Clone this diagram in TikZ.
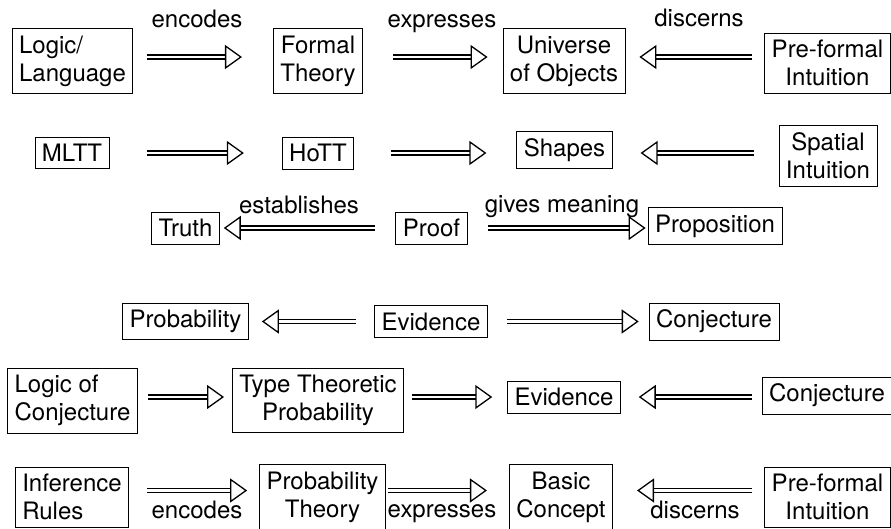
\documentclass[tikz,border=0pt]{standalone}
\usepackage{fontspec}
\setmainfont{TeX Gyre Heros}
\usetikzlibrary{arrows.meta}
\tikzset{
  box/.style={draw, line width=.8pt, inner sep=7pt, align=center,
    font=\fontsize{24}{28}\selectfont},
  lbl/.style={anchor=base, inner sep=0pt, font=\fontsize{24}{28}\selectfont},
  imp/.style={double, double distance=2.6pt, line width=1.4pt,
    -{Triangle[open, length=17pt 0 0, width=24pt 0 0, line width=1.3pt]}}
}
\begin{document}
\begin{tikzpicture}[x=1pt,y=-1pt]
\useasboundingbox (0,0) rectangle (891,528);
% row 1
\node[box,align=left] (ll) at (72.5,61) {Logic/\\Language};
\node[box] (ft) at (318,61) {Formal\\Theory};
\node[box] (uo) at (564,61) {Universe\\of Objects};
\node[box] (pf) at (827.5,63) {Pre-formal\\Intuition};
\draw[imp, shorten <=14pt, shorten >=31pt] ([yshift=4pt]ll.east) -- ([yshift=4pt]ft.west);
\draw[imp, shorten <=30pt, shorten >=15pt] ([yshift=4pt]ft.east) -- ([yshift=4pt]uo.west);
\draw[imp, shorten <=12pt, shorten >=14pt] ([yshift=4pt]uo.east -| pf.west) -- ([yshift=4pt]uo.east);
\node[lbl] (enc) at (197,27) {encodes};
\node[lbl] (exp) at (442,27) {expresses};
\node[lbl] (dis) at (699,26) {discerns};
% row 2
\node[box] (mltt) at (72,153) {MLTT};
\node[box] (hott) at (318,153) {HoTT};
\node[box] (sh) at (564.5,150) {Shapes};
\node[box] (si) at (828,156) {Spatial\\Intuition};
\draw[imp, shorten <=38pt, shorten >=38pt] (mltt.east) -- (hott.west);
\draw[imp, shorten <=37pt, shorten >=30pt] (hott.east) -- (hott.east -| sh.west);
\draw[imp, shorten <=25pt, shorten >=28pt] (hott.east -| si.west) -- (hott.east -| sh.east);
% row 3
\node[box] (tr) at (185.5,228) {Truth};
\node[box] (pr) at (431.5,228) {Proof};
\node[box] (pp) at (715,226) {Proposition};
\draw[imp, shorten <=20pt, shorten >=4pt] (pr.west) -- (pr.west -| tr.east);
\draw[imp, shorten <=20pt, shorten >=2pt] (pr.east) -- (pr.east -| pp.west);
\node[lbl] (est) at (299,213) {establishes};
\node[lbl] (giv) at (562,212) {gives meaning};
% row 4
\node[box] (prob) at (185.5,321.5) {Probability};
\node[box] (ev) at (431,321.5) {Evidence};
\node[box] (conj) at (714,321.5) {Conjecture};
\draw[imp, shorten <=18pt, shorten >=13pt] (ev.west) -- (prob.east);
\draw[imp, shorten <=19pt, shorten >=10pt] (ev.east) -- (conj.west);
% row 5
\node[box,align=left] (lc) at (72.5,400.5) {Logic of\\Conjecture};
\node[box] (ttp) at (318,400.5) {Type Theoretic\\Probability};
\node[box] (ev2) at (564,397) {Evidence};
\node[box] (conj2) at (827,395.5) {Conjecture};
\draw[imp, shorten <=10pt, shorten >=8pt] ([yshift=3.5pt]lc.east) -- ([yshift=3.5pt]ttp.west);
\draw[imp, shorten <=8pt, shorten >=15pt] (ev2.west -| ttp.east) -- (ev2.west);
\draw[imp, shorten <=10pt, shorten >=18pt] (ev2.east -| conj2.west) -- (ev2.east);
% row 6
\node[box,align=left] (ir) at (72,497) {Inference\\Rules};
\node[box] (pt) at (322.5,497) {Probability\\Theory};
\node[box] (bc) at (561,497) {Basic\\Concept};
\node[box] (pf2) at (827.5,497) {Pre-formal\\Intuition};
\draw[imp, shorten <=18pt, shorten >=12pt] ([yshift=6.5pt]ir.east) -- ([yshift=6.5pt]pt.west);
\draw[imp, shorten <=2pt, shorten >=22pt] ([yshift=6.5pt]pt.east) -- ([yshift=6.5pt]bc.west);
\draw[imp, shorten <=12pt, shorten >=24pt] ([yshift=6.5pt]pf2.west) -- ([yshift=6.5pt]bc.east);
\node[lbl] (enc2) at (197,518) {encodes};
\node[lbl] (exp2) at (442,517) {expresses};
\node[lbl] (dis2) at (695,518) {discerns};
\end{tikzpicture}
\end{document}
